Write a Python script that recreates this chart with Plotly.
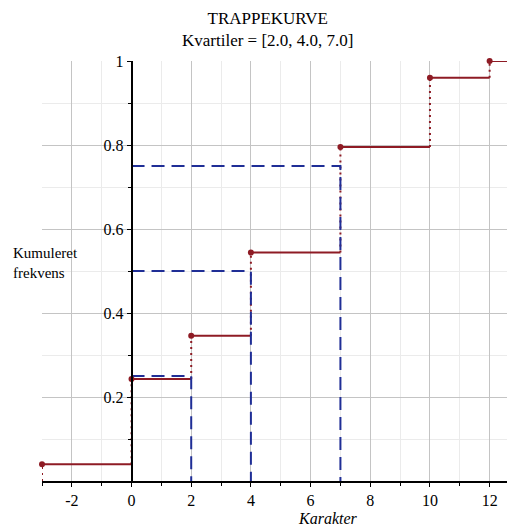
import plotly.graph_objects as go

# Data
karakterer = [-3, 0, 2, 4, 7, 10, 12]
kumuleret = [0.04, 0.243, 0.346, 0.544, 0.795, 0.96, 1.0]
kvartil_niveauer = [0.25, 0.5, 0.75]
kvartiler = [2.0, 4.0, 7.0]
x_slut = 13
x_ticks = [-2, 0, 2, 4, 6, 8, 10, 12]
x_ticktext = ["-2", "0", "2", "4", "6", "8", "10", "12"]
x_minor = [-3, -1, 1, 3, 5, 7, 9, 11]
y_ticks = [0.2, 0.4, 0.6, 0.8, 1.0]
y_ticktext = ["0.2", "0.4", "0.6", "0.8", "1"]
y_minor = [0.1, 0.3, 0.5, 0.7, 0.9]
titel = "TRAPPEKURVE<br>Kvartiler = [2.0, 4.0, 7.0]"

RED = "#8E1B24"
BLUE = "#1F2E96"
FONT = "Liberation Serif"

fig = go.Figure()

# horizontal step segments
hx, hy = [], []
nxt = karakterer[1:] + [x_slut]
for x0, x1, yv in zip(karakterer, nxt, kumuleret):
    hx += [x0, x1, None]
    hy += [yv, yv, None]
fig.add_trace(go.Scatter(x=hx, y=hy, mode="lines", cliponaxis=False,
                         line=dict(color=RED, width=2), hoverinfo="skip"))

# vertical dotted connectors
vx, vy = [], []
prev = [0] + kumuleret[:-1]
for xv, y0, y1 in zip(karakterer, prev, kumuleret):
    vx += [xv, xv, None]
    vy += [y0, y1, None]
fig.add_trace(go.Scatter(x=vx, y=vy, mode="lines",
                         line=dict(color=RED, width=2, dash="2px,4px"), hoverinfo="skip"))

# quartile dashed lines
qx, qy = [], []
for q, k in zip(kvartil_niveauer, kvartiler):
    qx += [0, k, k, None]
    qy += [q, q, 0, None]
fig.add_trace(go.Scatter(x=qx, y=qy, mode="lines",
                         line=dict(color=BLUE, width=2, dash="13px,7px"), hoverinfo="skip"))

# markers
fig.add_trace(go.Scatter(x=karakterer, y=kumuleret, mode="markers", cliponaxis=False,
                         marker=dict(color=RED, size=6, symbol="circle"), hoverinfo="skip"))

xmin, xmax = -3, 12.85
fig.update_layout(
    width=507, height=518,
    margin=dict(l=34, r=0, t=53, b=45),
    plot_bgcolor="white", paper_bgcolor="white",
    showlegend=False,
    font=dict(family=FONT, size=15, color="black"),
    xaxis=dict(range=[xmin, xmax], tickvals=x_ticks, ticktext=x_ticktext,
               showgrid=True, automargin=False,
               gridcolor="#c4c4c4", gridwidth=1, zeroline=False,
               showline=True, linecolor="black", linewidth=1.5,
               ticks="outside", ticklen=4, tickcolor="black",
               tickfont=dict(family=FONT, size=16),
               minor=dict(tickvals=x_minor, showgrid=True, gridcolor="#ebebeb",
                          ticks="outside", ticklen=3, tickcolor="black")),
    yaxis=dict(range=[0, 1.0], tickvals=y_ticks, ticktext=y_ticktext,
               showgrid=True, gridcolor="#c4c4c4", gridwidth=1, zeroline=False,
               anchor="free", position=(0 - xmin) / (xmax - xmin), automargin=False,
               showline=True, linecolor="black", linewidth=1.5,
               ticks="outside", ticklen=4, tickcolor="black",
               tickfont=dict(family=FONT, size=16),
               minor=dict(tickvals=y_minor, showgrid=True,
                          gridcolor="#ebebeb", ticks="outside", ticklen=3,
                          tickcolor="black")),
    annotations=[
        dict(text=titel, xref="paper", yref="paper",
             x=0.478, y=1.075, xanchor="center", yanchor="middle", align="center",
             showarrow=False, font=dict(family=FONT, size=17, color="black")),
        dict(text="Kumuleret<br>frekvens", xref="paper", yref="paper",
             x=-0.065, y=0.52, xanchor="left", yanchor="middle", align="left",
             showarrow=False, font=dict(family=FONT, size=15, color="black")),
        dict(text="<i>Karakter</i>", xref="paper", yref="paper",
             x=0.605, y=-0.065, xanchor="center", yanchor="top",
             showarrow=False, font=dict(family=FONT, size=16, color="black")),
    ],
)

fig.write_html("out.html")
